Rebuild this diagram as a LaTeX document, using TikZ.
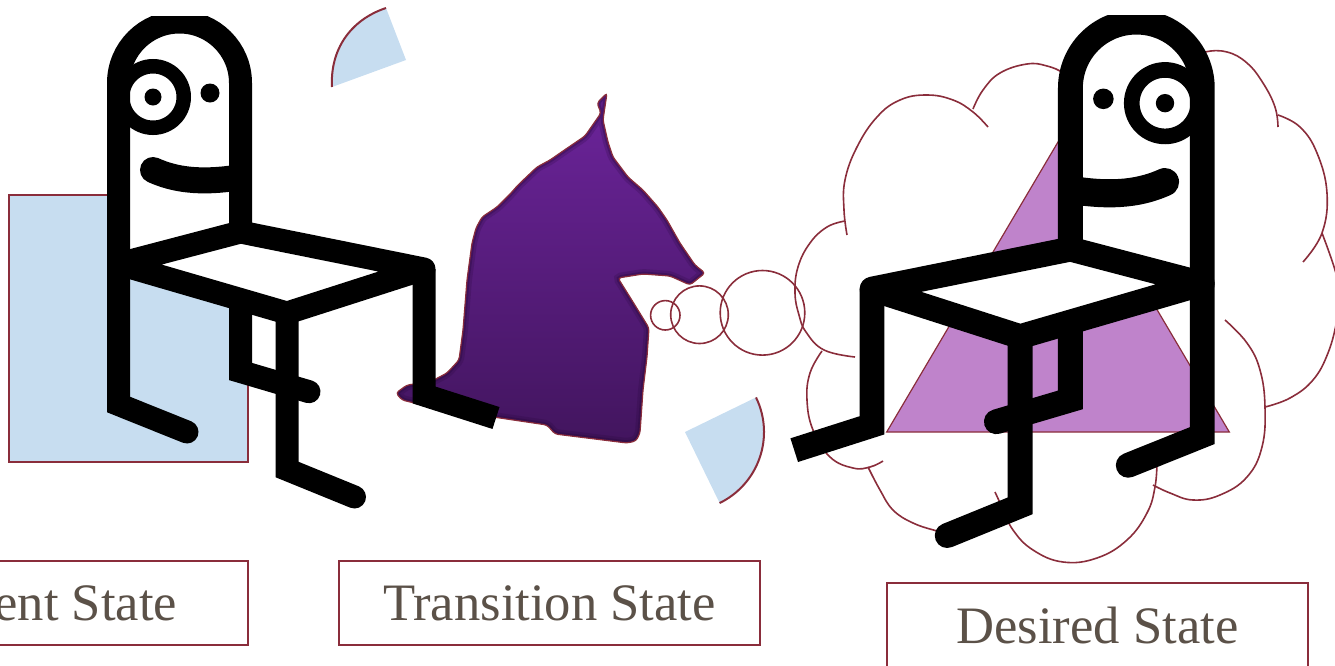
\documentclass[tikz,border=0pt]{standalone}
\usepackage{fontspec}
\setmainfont{Liberation Serif}

\definecolor{paleblue}{RGB}{199,221,240}
\definecolor{framered}{RGB}{138,45,59}
\definecolor{lilac}{RGB}{191,131,203}
\definecolor{blobtop}{RGB}{108,36,155}
\definecolor{blobbottom}{RGB}{66,21,94}
\definecolor{blobedge}{RGB}{36,6,54}
\definecolor{labelgray}{RGB}{91,81,72}

\newcommand{\blobpath}{(607,93) [rounded corners=1.5pt] -- (597,103) -- (601,113) -- (585,136) -- (563,151) -- (550,160) -- (537,167) -- (518,185) -- (511,193) -- (497,207) -- (482,217) -- (476,228) -- (472,243) -- (467,280) -- (463,330) -- (459,360) -- (447,373) -- (430,382) -- (407,385) -- (396,393) -- (402,400) -- (435,408) -- (500,418) -- (547,425) -- (555,434) -- (627,443) -- (636,441) -- (640,433) -- (643,390) -- (647,357) -- (649,328) -- (633,302) -- (618,278) -- (643,274) -- (670,276) -- (690,285) -- (705,273) -- (695,265) -- (680,243) -- (667,220) -- (658,207) -- (643,190) -- (628,177) -- (613,157) -- (608,142) -- (603,120) -- cycle}

\newcommand{\seatedchair}{
	\begin{scope}
		\clip (0,16) rectangle (540,560);
		\draw[chairline] (240.5,300) -- (240.5,371.5) -- (309,391.7);
		\fill[white] (118.5,264) -- (118.5,83) arc[start angle=180, end angle=360, radius=61] -- (240.5,232) -- cycle;
		\draw[chairline, line join=round, fill=white] (118.5,264) -- (240.5,232) -- (424,269) -- (287,313) -- cycle;
		\draw[chairline] (187,432) -- (118.5,404.5) -- (118.5,83) arc[start angle=180, end angle=360, radius=61] -- (240.5,232);
		\draw[chairline] (287,313) -- (287,469.5) -- (354.5,497);
		\draw[chairline, line cap=butt] (424,269) -- (424,395) -- (496,418);
		\draw[line width=7.25pt] (153,97) circle (30.75);
		\fill (153,97) circle (8.5) (210,93) circle (9.5);
		\draw[line width=13pt, line cap=round] (153,170) .. controls (175,180) and (200,183) .. (235,178);
	\end{scope}
}

\begin{document}
\begin{tikzpicture}[x=0.5pt, y=-0.5pt,
		chairline/.style={line width=11.5pt, line cap=round},
		cloudline/.style={framered, line width=0.8pt},
		statebox/.style={draw=framered, line width=1pt, fill=white, minimum width=210.5pt, minimum height=42pt, inner sep=0pt, text=labelgray, font=\fontsize{26.3}{30}\selectfont}]
	\useasboundingbox (0,0) rectangle (1335,665);
	\clip (0,0) rectangle (1335,665);
	\draw[framered, line width=0.75pt, fill=paleblue] (9,195) rectangle (248,462);
	\fill[paleblue] (386,8) -- (406,60) -- (332,87) .. controls (330,50) and (350,20) .. (386,8);
	\draw[framered, line width=1pt] (332,87) .. controls (330,50) and (350,20) .. (386,8);
	\fill[paleblue] (685,432) -- (756,397.4) arc[start angle=-26, end angle=64, radius=79] -- cycle;
	\draw[framered, line width=1pt] (756,397.4) arc[start angle=-26, end angle=64, radius=79];
	\shade[top color=blobtop, bottom color=blobbottom] \blobpath;
	\begin{scope}
		\clip \blobpath;
		\draw[blobedge, line width=5pt, opacity=0.2] \blobpath;
		\draw[blobedge, line width=2.5pt, opacity=0.3] \blobpath;
	\end{scope}
	\draw[framered, line width=0.6pt] \blobpath;
	\draw[cloudline] (665.3,315.3) circle (14.7) (699.5,314.7) circle (28.8) (762.5,312.8) circle (42.3);
	\draw[cloudline] plot[smooth, tension=0.7] coordinates {(847,235) (844,210) (845,180) (857,147) (877,117) (900,100) (927,95) (953,100) (973,112) (988,127)};
	\draw[cloudline] plot[smooth, tension=0.7] coordinates {(973,109) (983,90) (1000,73) (1027,64) (1047,66) (1065,74) (1085,90)};
	\draw[cloudline] plot[smooth, tension=0.7] coordinates {(845,221) (827,227) (810,243) (798,267) (795,293) (799,315) (806,332) (824,350) (855,357)};
	\draw[cloudline] plot[smooth, tension=0.7] coordinates {(822,351) (810,373) (807,400) (813,430) (830,457) (853,468) (870,467) (883,461)};
	\draw[cloudline] plot[smooth, tension=0.7] coordinates {(868,467) (880,490) (893,510) (913,523) (937,531) (950,534)};
	\draw[cloudline] plot[smooth, tension=0.7] coordinates {(995,492) (1002,507) (1013,530) (1033,550) (1063,562) (1097,558) (1127,540) (1147,513) (1155,487) (1157,462)};
	\draw[cloudline] plot[smooth, tension=0.7] coordinates {(1153,485) (1170,493) (1193,500) (1220,495) (1247,477) (1262,447) (1265,407) (1260,370) (1247,343) (1225,320)};
	\draw[cloudline] plot[smooth, tension=0.7] coordinates {(1265,407) (1290,398) (1313,380) (1328,353) (1337,320) (1340,295) (1335,270) (1322,233)};
	\draw[cloudline] plot[smooth, tension=0.7] coordinates {(1278,115) (1300,127) (1317,153) (1327,193) (1322,233) (1303,262)};
	\draw[cloudline] plot[smooth, tension=0.7] coordinates {(1190,60) (1205,52) (1227,52) (1247,63) (1263,83) (1275,107) (1278,127)};
	\draw[framered, line width=0.6pt, fill=lilac] (886.7,432) -- (1229.3,432) -- (1058,142) -- cycle;
	\seatedchair
	\begin{scope}[transform canvas={shift={(1330.4,-1.7)}, xscale=-1.081, yscale=1.081}]
		\seatedchair
	\end{scope}
	\node[statebox] (current) at (37.5,603) {Current State};
	\node[statebox] (transition) at (549.5,603) {Transition State};
	\node[statebox] (desired) at (1097.5,625) {Desired State};
\end{tikzpicture}
\end{document}
